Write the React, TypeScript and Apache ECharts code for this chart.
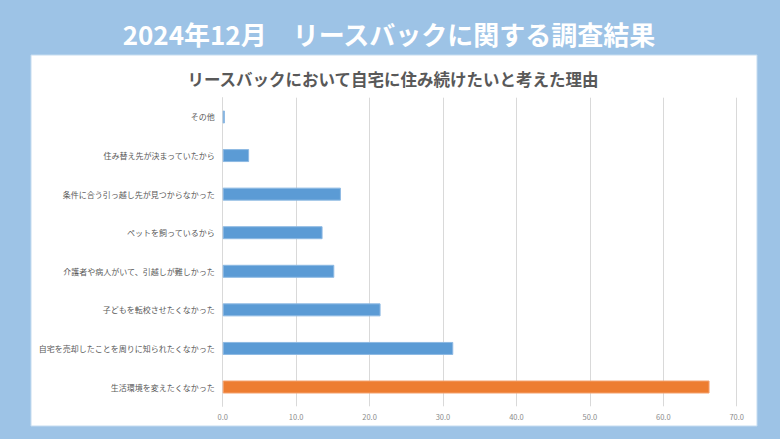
import React, { useEffect, useRef } from "react";
import * as echarts from "echarts";

const mainTitle = "2024年12月　リースバックに関する調査結果";
const subTitle = "リースバックにおいて自宅に住み続けたいと考えた理由";

const categories = [
  "その他",
  "住み替え先が決まっていたから",
  "条件に合う引っ越し先が見つからなかった",
  "ペットを飼っているから",
  "介護者や病人がいて、引越しが難しかった",
  "子どもを転校させたくなかった",
  "自宅を売却したことを周りに知られたくなかった",
  "生活環境を変えたくなかった",
];
const values = [0.3, 3.6, 16.1, 13.6, 15.2, 21.5, 31.4, 66.3];
const highlightIndex = 7;

const xTicks = { min: 0, max: 70, interval: 10 };

export default function App() {
  const ref = useRef<HTMLDivElement>(null);
  useEffect(() => {
    document.body.style.margin = "0";
    if (!ref.current) return;
    const chart = echarts.init(ref.current, null, { renderer: "svg" });
    const font = "'Noto Sans CJK JP', 'Noto Sans', sans-serif";
    chart.setOption({
      animation: false,
      backgroundColor: "#9dc3e6",
      textStyle: { fontFamily: font },
      graphic: [
        {
          type: "rect",
          shape: { x: 31, y: 55, width: 726, height: 371 },
          style: { fill: "#ffffff", stroke: "#c5dcf0", lineWidth: 1 },
          z: -10,
        },
        {
          type: "text",
          x: 389,
          y: 33,
          style: {
            text: mainTitle,
            fill: "#ffffff",
            font: `bold 26px ${font}`,
            align: "center",
            verticalAlign: "middle",
          },
        },
        {
          type: "text",
          x: 393,
          y: 79,
          style: {
            text: subTitle,
            fill: "#595959",
            font: `bold 16.5px ${font}`,
            align: "center",
            verticalAlign: "middle",
          },
        },
      ],
      grid: { left: 222.7, right: 43.3, top: 97.7, height: 308.6, containLabel: false },
      xAxis: {
        type: "value",
        min: xTicks.min,
        max: xTicks.max,
        interval: xTicks.interval,
        axisLine: { show: false },
        axisTick: { show: false },
        axisLabel: {
          color: "#8c8c8c",
          fontSize: 7.5,
          margin: 6,
          formatter: (v: number) => v.toFixed(1),
        },
        splitLine: { lineStyle: { color: "#d9d9d9", width: 1 } },
      },
      yAxis: {
        type: "category",
        inverse: true,
        data: categories,
        axisLine: { show: true, lineStyle: { color: "#d9d9d9" } },
        axisTick: { show: false },
        axisLabel: { color: "#595959", fontSize: 8, margin: 8 },
      },
      series: [
        {
          type: "bar",
          barWidth: 13,
          data: values.map((v, i) => ({
            value: v,
            itemStyle: {
              color: i === highlightIndex ? "#ed7d31" : "#5b9bd5",
              borderColor: i === highlightIndex ? "#f4a26f" : "#8db9e3",
              borderWidth: 1,
            },
          })),
        },
      ],
    });
    return () => chart.dispose();
  }, []);
  return <div ref={ref} style={{ width: 780, height: 439 }} />;
}
